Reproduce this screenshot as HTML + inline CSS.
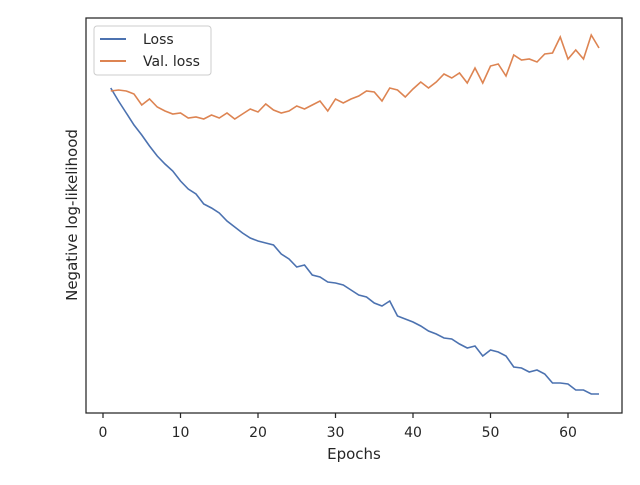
<!DOCTYPE html>
<html><head><meta charset="utf-8"><style>
body{margin:0;background:#fff;}
svg text{font-family:"DejaVu Sans","Liberation Sans",sans-serif;fill:#262626;}
</style></head><body>
<svg width="640" height="480" viewBox="0 0 640 480">
<g id="plot"></g>
<rect x="86" y="18" width="536" height="395" fill="none" stroke="#262626" stroke-width="1.25"/>
<text x="354" y="459" font-size="15" text-anchor="middle">Epochs</text>
<text x="0" y="0" font-size="15" text-anchor="middle" transform="translate(77,215) rotate(-90)">Negative log-likelihood</text>
<g>
<rect x="94" y="26" width="117" height="49" rx="3" fill="#fff" stroke="#ccc" stroke-width="1"/>
<line x1="100" y1="39" x2="126" y2="39" stroke="#4c72b0" stroke-width="2"/>
<text x="143" y="44" font-size="14">Loss</text>
<line x1="100" y1="61" x2="126" y2="61" stroke="#dd8452" stroke-width="2"/>
<text x="143" y="66" font-size="14">Val. loss</text>
</g>
</svg>
<script>
const xTicks=[0,10,20,30,40,50,60];
const lossValues=[325,312,300,288,278,267,257,249,242,232,224,219,209,205,200,192,186,180,175,172,170,168,159,154,146,148,138,136,131,130,128,123,118,116,110,107,112,97,94,91,87,82,79,75,74,69,65,67,57,63,61,57,46,45,41,43,39,30,30,29,23,23,19,19];
const valLossValues=[322,323,322,319,308,314,306,302,299,300,295,296,294,298,295,300,294,299,304,301,309,303,300,302,307,304,308,312,302,314,310,314,317,322,321,312,325,323,316,324,331,325,331,339,335,340,330,345,330,347,349,337,358,353,354,351,359,360,376,354,363,354,378,365];
const xs=v=>103+(v-0)*(568-103)/60;
const ys=v=>413-v;
const NS='http://www.w3.org/2000/svg';
const plot=document.getElementById('plot');
xTicks.forEach(t=>{
  const l=document.createElementNS(NS,'line');
  l.setAttribute('x1',xs(t));l.setAttribute('x2',xs(t));l.setAttribute('y1',413);l.setAttribute('y2',418);
  l.setAttribute('stroke','#262626');l.setAttribute('stroke-width','1.25');
  
  
  plot.appendChild(l);
  const tx=document.createElementNS(NS,'text');
  tx.setAttribute('x',xs(t));tx.setAttribute('y',437);tx.setAttribute('font-size','14');tx.setAttribute('text-anchor','middle');
  tx.textContent=t;
  
  
  plot.appendChild(tx);
});
function line(vals,color,name){
  const p=document.createElementNS(NS,'polyline');
  p.setAttribute('points',vals.map((v,i)=>xs(i+1)+','+ys(v)).join(' '));
  p.setAttribute('fill','none');p.setAttribute('stroke',color);p.setAttribute('stroke-width','1.6');
  
  
  plot.appendChild(p);
}
line(lossValues,'#4c72b0','loss-line');
line(valLossValues,'#dd8452','val-loss-line');
</script>
</body></html>
